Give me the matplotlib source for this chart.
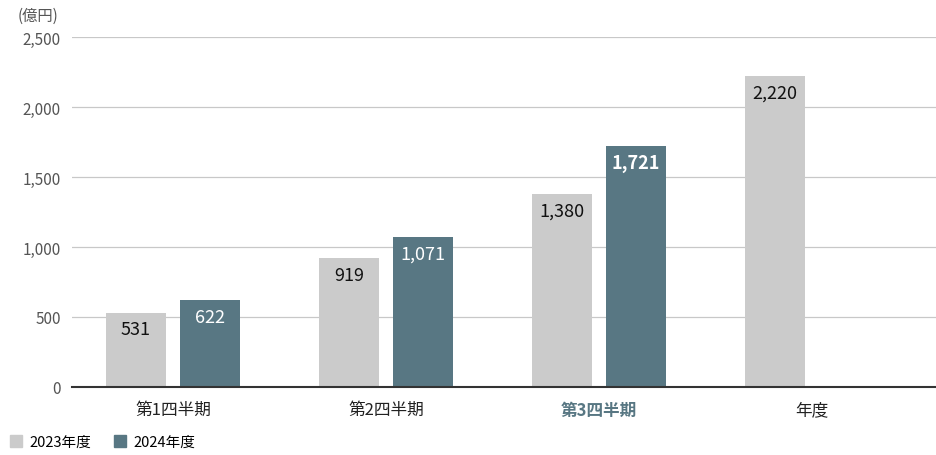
import matplotlib
matplotlib.use("Agg")
import matplotlib.pyplot as plt
import numpy as np
from matplotlib.patches import Patch

plt.rcParams['font.family'] = ['Noto Sans CJK JP', 'DejaVu Sans']

categories = ["第1四半期", "第2四半期", "第3四半期", "年度"]
values_2023 = [531, 919, 1380, 2220]
values_2024 = [622, 1071, 1721, None]
series_names = ["2023年度", "2024年度"]
yticks = [0, 500, 1000, 1500, 2000, 2500]

GRAY = "#cbcbcb"
TEAL = "#587783"

fig = plt.figure(figsize=(9.36, 4.56), dpi=100)
ax = fig.add_axes([72 / 936, (456 - 388) / 456, 1 - 72 / 936, 350 / 456])

x = np.arange(len(categories))
w = 0.282
off = 0.174

ax.bar(x - off, values_2023, w, color=GRAY, zorder=3)
x2 = [xi + off for xi, v in zip(x, values_2024) if v is not None]
v2 = [v for v in values_2024 if v is not None]
ax.bar(x2, v2, w, color=TEAL, zorder=3)

for xi, v in zip(x - off, values_2023):
    ax.annotate(f"{v:,}", (xi, v), xytext=(0, -12), textcoords="offset points",
                ha="center", va="center", fontsize=13, color="#111111", zorder=4)
for i, (xi, v) in enumerate(zip(x2, v2)):
    ax.annotate(f"{v:,}", (xi, v), xytext=(0, -12), textcoords="offset points",
                ha="center", va="center", fontsize=13, color="white", zorder=4,
                fontweight="bold" if i == 2 else "normal")

ax.set_xlim(-0.474, 3.582)
ax.set_ylim(0, 2500)
ax.set_yticks(yticks)
ax.set_yticklabels([f"{t:,}" for t in yticks], fontsize=11, color="#555555")
ax.yaxis.grid(True, color="#c8c8c8", linewidth=0.9, zorder=0)
ax.tick_params(axis="y", length=0, pad=8)
ax.tick_params(axis="x", length=0, pad=10)
ax.set_xticks(x)
ax.set_xticklabels(categories, fontsize=12, color="#222222")
lbl = ax.get_xticklabels()[2]
lbl.set_color(TEAL)
lbl.set_fontweight("bold")

for s in ["top", "right", "left"]:
    ax.spines[s].set_visible(False)
ax.spines["bottom"].set_color("#333333")
ax.spines["bottom"].set_linewidth(1.5)
ax.spines["bottom"].set_zorder(5)

fig.text(18 / 936, 1 - 16 / 456, "(億円)", fontsize=11, color="#555555",
         ha="left", va="center")

handles = [Patch(color=GRAY), Patch(color=TEAL)]
fig.legend(handles, series_names, loc="center left", bbox_to_anchor=(10 / 936, 1 - 443 / 456),
           ncol=2, frameon=False, fontsize=10.5, handlelength=0.8, handleheight=0.8,
           handletextpad=0.5, columnspacing=1.6, borderaxespad=0, borderpad=0)

fig.savefig("out.png", dpi=100)
